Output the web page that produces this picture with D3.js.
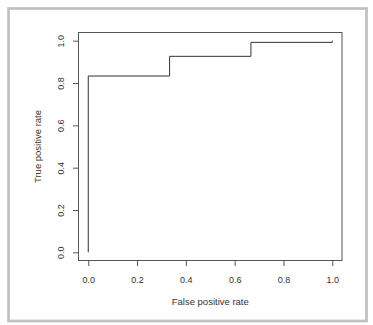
<!DOCTYPE html>
<html><head><meta charset="utf-8">
<script src="https://cdn.jsdelivr.net/npm/d3@7"></script>
<style>html,body{margin:0;padding:0;background:#fff;}svg{display:block;}</style>
</head><body>
<svg id="c" width="373" height="325"></svg>
<script>
// ROC curve data
const fpr = [0, 0, 1/3, 1/3, 2/3, 2/3, 1, 1];
const tpr = [0, 0.833, 0.833, 0.926, 0.926, 0.992, 0.992, 1.0];
const xTicks = [0, 0.2, 0.4, 0.6, 0.8, 1.0];
const yTicks = [0, 0.2, 0.4, 0.6, 0.8, 1.0];
const xLabel = "False positive rate";
const yLabel = "True positive rate";

const svg = d3.select("#c");
svg.append("rect").attr("x",8.5).attr("y",8.5).attr("width",358).attr("height",312.5)
  .attr("fill","none").attr("stroke","#c0c0c4").attr("stroke-width",2.7);

const x = d3.scaleLinear().domain([-0.04,1.04]).range([78.5,342]);
const y = d3.scaleLinear().domain([-0.04,1.04]).range([260.8,32.2]);
const ink = "#555";
const font = "'Liberation Sans', Arial, sans-serif";

// plot box
svg.append("rect").attr("x",78.5).attr("y",32.5).attr("width",263.5).attr("height",228)
  .attr("fill","none").attr("stroke",ink).attr("stroke-width",1);

// x axis
const xa = svg.append("g").attr("transform","translate(0,261)")
  .call(d3.axisBottom(x).tickValues(xTicks).tickFormat(d3.format(".1f")).tickSize(5).tickPadding(10.5));
xa.select(".domain").remove();
xa.selectAll("line").attr("stroke",ink);
xa.selectAll("text").attr("fill","#333").style("font-family",font).style("font-size","9px");

// y axis
const ya = svg.append("g").attr("transform","translate(78,0)")
  .call(d3.axisLeft(y).tickValues(yTicks).tickFormat(d3.format(".1f")).tickSize(5));
ya.select(".domain").remove();
ya.selectAll("line").attr("stroke",ink);
ya.selectAll("text").attr("fill","#333").style("font-family",font).style("font-size","9px")
  .attr("text-anchor","middle").attr("x",null).attr("dy",null)
  .attr("transform","translate(-17,0) rotate(-90)").attr("dy","0.32em");

// axis titles
svg.append("text").attr("x",(78.5+342)/2).attr("y",305).attr("text-anchor","middle")
  .attr("fill","#333").style("font-family",font).style("font-size","9.5px").text(xLabel);
svg.append("text").attr("transform",`translate(41,${(32.2+260.8)/2}) rotate(-90)`)
  .attr("text-anchor","middle").attr("fill","#4a3020").style("font-family",font).style("font-size","9.5px").text(yLabel);

// curve
const pts = fpr.map((f,i)=>[x(f), y(tpr[i])]);
svg.append("path").attr("d", d3.line()(pts)).attr("fill","none").attr("stroke","#333").attr("stroke-width",1);
</script>
</body></html>
